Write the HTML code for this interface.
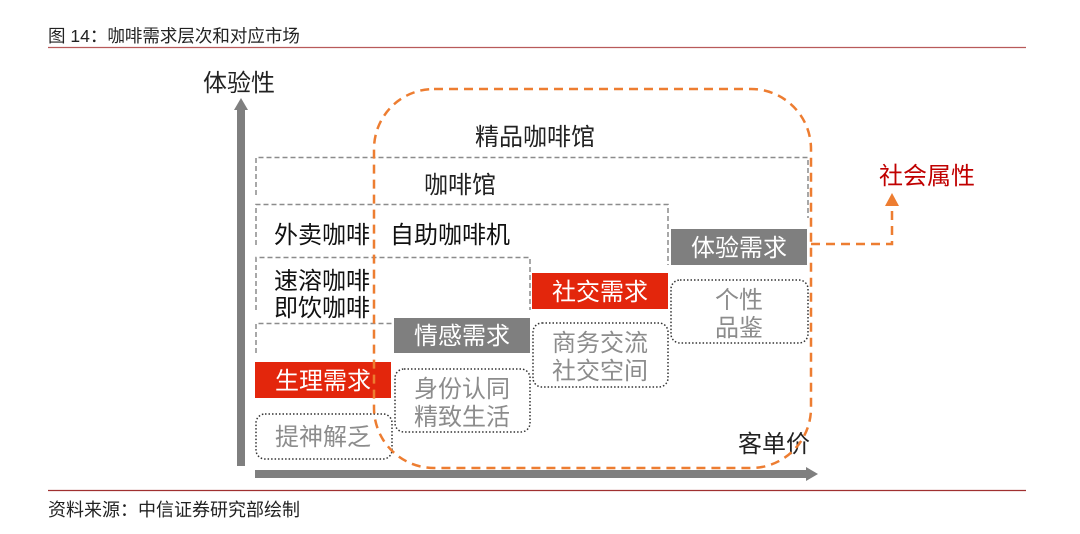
<!DOCTYPE html>
<html><head><meta charset="utf-8"><style>
html,body{margin:0;padding:0;background:#fff;width:1080px;height:534px;overflow:hidden}
svg{display:block}
text{font-family:"Liberation Sans","Noto Sans CJK SC",sans-serif}
</style></head><body>
<svg width="1080" height="534" viewBox="0 0 1080 534" xmlns="http://www.w3.org/2000/svg">
<text x="48" y="42" font-size="17.5" fill="#222">图 14：咖啡需求层次和对应市场</text>
<line x1="48" y1="47.5" x2="1026" y2="47.5" stroke="#b85a5a" stroke-width="1.2"/>
<line x1="48" y1="490.5" x2="1026" y2="490.5" stroke="#a03030" stroke-width="1.2"/>
<text x="48" y="516" font-size="18" fill="#222">资料来源：中信证券研究部绘制</text>

<!-- axes -->
<rect x="237" y="108" width="8" height="358" fill="#7f7f7f"/>
<polygon points="241,98 234,110 248,110" fill="#7f7f7f"/>
<rect x="255" y="470" width="552" height="8" fill="#7f7f7f"/>
<polygon points="818,474 806,467 806,481" fill="#7f7f7f"/>
<text x="203" y="91" font-size="24" fill="#222">体验性</text>
<text x="738" y="452" font-size="24" fill="#222">客单价</text>

<!-- dashed gray boxes -->
<g fill="none" stroke="#8c8c8c" stroke-width="1.5" stroke-dasharray="5,3">
<path d="M256,195 V157.5 H808 V218"/>
<path d="M256,245 V204.5 H668 V265"/>
<path d="M256,310 V257.5 H530 V310"/>
<path d="M256,353 V323.5 H392"/>
</g>

<text x="535" y="145" font-size="24" fill="#222" text-anchor="middle">精品咖啡馆</text>
<text x="460" y="193" font-size="24" fill="#222" text-anchor="middle">咖啡馆</text>
<text x="274" y="243" font-size="24" fill="#111">外卖咖啡</text>
<text x="390" y="243" font-size="24" fill="#111">自助咖啡机</text>
<text x="274" y="289" font-size="24" fill="#111">速溶咖啡</text>
<text x="274" y="316" font-size="24" fill="#111">即饮咖啡</text>
<rect x="376" y="262" width="18" height="60" fill="#fff"/>
<rect x="376" y="220" width="12" height="28" fill="#fff"/>

<!-- need boxes -->
<rect x="255" y="362" width="136" height="36" fill="#e3260c"/>
<text x="323" y="389" font-size="24" fill="#fff" text-anchor="middle">生理需求</text>
<rect x="394" y="318" width="136" height="35" fill="#7f7f7f"/>
<text x="462" y="344" font-size="24" fill="#fff" text-anchor="middle">情感需求</text>
<rect x="532" y="273" width="136" height="36" fill="#e3260c"/>
<text x="600" y="300" font-size="24" fill="#fff" text-anchor="middle">社交需求</text>
<rect x="671" y="229" width="136" height="36" fill="#7f7f7f"/>
<text x="739" y="256" font-size="24" fill="#fff" text-anchor="middle">体验需求</text>

<g fill="none" stroke="#333" stroke-width="1.5" stroke-dasharray="1.5,2">
<rect x="256" y="414" width="136" height="45" rx="9"/>
<rect x="395" y="369" width="135" height="63" rx="9"/>
<rect x="533" y="323" width="135" height="64" rx="9"/>
<rect x="671" y="280" width="137" height="63" rx="9"/>
</g>
<g font-size="24" fill="#8c8c8c" text-anchor="middle">
<text x="323" y="445">提神解乏</text>
<text x="462" y="397">身份认同</text>
<text x="462" y="425">精致生活</text>
<text x="600" y="351">商务交流</text>
<text x="600" y="379">社交空间</text>
<text x="739" y="308">个性</text>
<text x="739" y="336">品鉴</text>
</g>

<!-- orange dashed -->
<g fill="none" stroke="#ed7d31" stroke-width="2.5" stroke-dasharray="9,6">
<rect x="374" y="89" width="437" height="379" rx="60"/>
<path d="M811,244 H892 V206"/>
</g>
<polygon points="892,193 885,206 899,206" fill="#ed7d31"/>
<text x="879" y="184" font-size="24" fill="#c00000">社会属性</text>
</svg>
</body></html>
